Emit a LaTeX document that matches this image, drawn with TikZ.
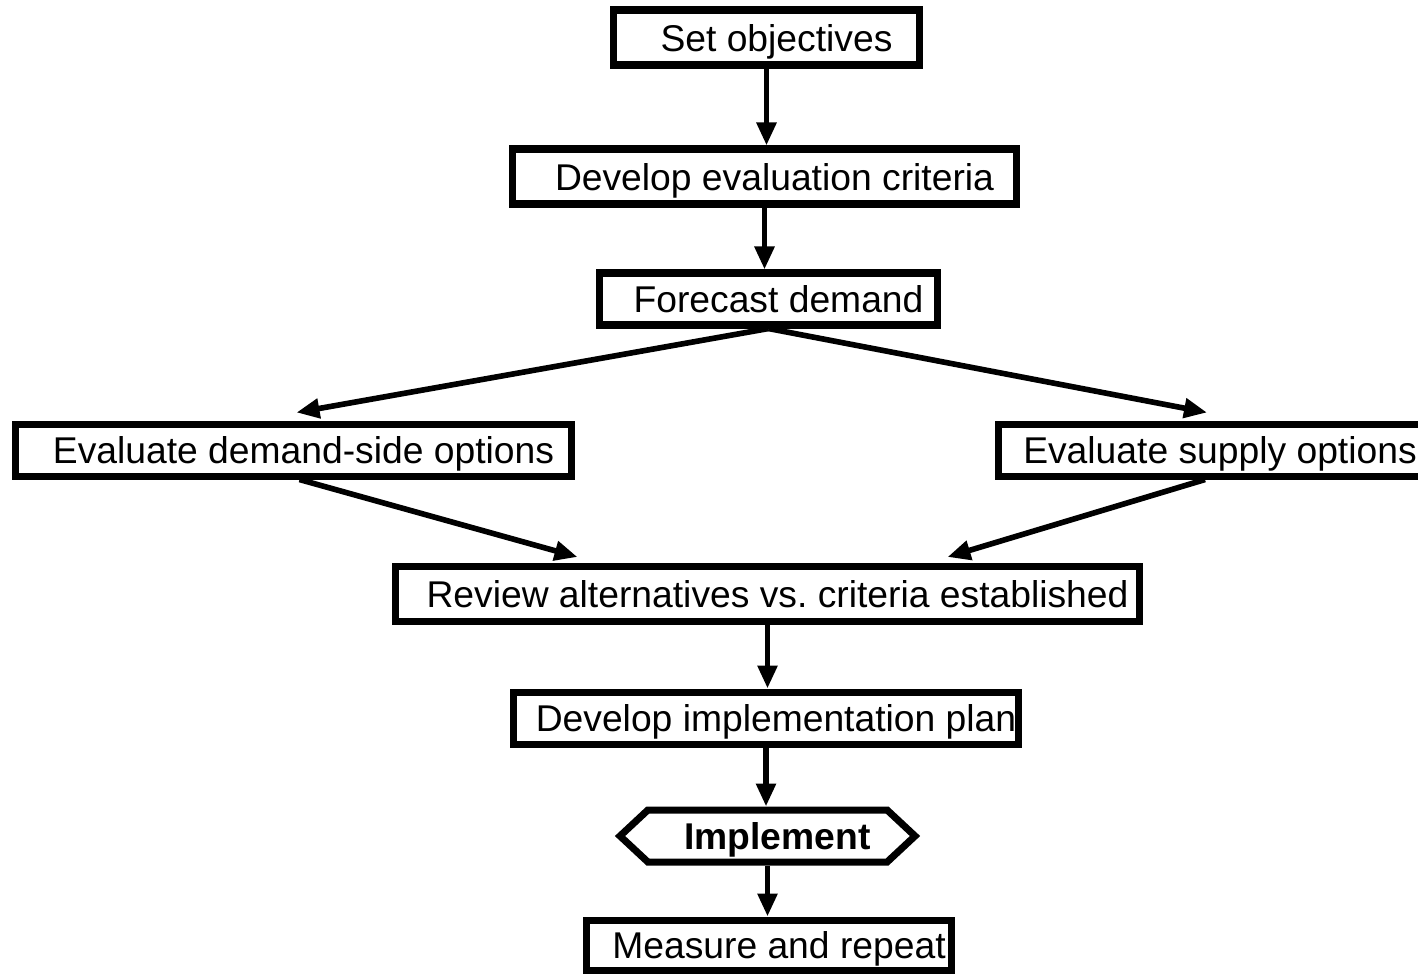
\documentclass[tikz,border=0pt]{standalone}
\usepackage{fontspec}
\setmainfont{Liberation Sans}
\frenchspacing
\usetikzlibrary{arrows.meta,shapes.symbols}
\tikzset{stepbox/.style={draw, line width=2pt, inner sep=0pt, minimum height=0.55cm,
  text height=0.27cm, text depth=0cm, font=\fontsize{10.6}{12.7}\selectfont,
  execute at begin node={\hspace*{0.2cm}}},
flow/.style={line width=1.6pt, -{Triangle[length=0.23cm,width=0.19cm]}}}

\begin{document}
\begin{tikzpicture}
        \useasboundingbox (0,0) rectangle (14.18,-9.75);
        \node[stepbox, minimum width=3.06cm] (so) at (7.665, -0.375) {Set objectives};
        \node[stepbox, minimum width=5.04cm] (dec) at (7.645, -1.765) {Develop evaluation criteria};
        \node[stepbox, minimum width=3.38cm, minimum height=0.52cm] (fc) at (7.685, -2.99) {Forecast demand};
        \node[stepbox, minimum width=5.56cm, minimum height=0.52cm] (dso) at (2.935, -4.50) {Evaluate demand-side options};
        \node[stepbox, minimum width=4.24cm, minimum height=0.52cm] (sup) at (12.10, -4.50) {Evaluate supply options};
        \node[stepbox, minimum width=7.44cm] (rev) at (7.675, -5.94) {Review alternatives vs. criteria established};
        \node[stepbox, minimum width=5.05cm, minimum height=0.52cm] (dip) at (7.66, -7.18) {Develop implementation plan};
        \node[stepbox, signal, signal to=west and east, signal pointer angle=86,
              minimum width=2.95cm, minimum height=0.52cm] (imp) at (7.675, -8.36) {\bfseries Implement};
        \node[stepbox, minimum width=3.65cm, minimum height=0.50cm] (mr) at (7.69, -9.45) {Measure and repeat};

        \draw (so.south) edge[flow] (so.south |- dec.north)
              (dec.south) edge[flow] (dec.south |- fc.north)

              (fc.south) edge[flow] ([xshift=0.03cm, yshift=0.08cm]dso.north)
              (fc.south) edge[flow] ([xshift=-0.03cm, yshift=0.08cm]sup.north)
              ([xshift=0.06cm]dso.south) edge[flow] ([xshift=-1.9cm, yshift=0.06cm]rev.north)
              ([xshift=-0.05cm]sup.south) edge[flow] ([xshift=1.8cm, yshift=0.06cm]rev.north)

              (rev.south) edge[flow] (rev.south |- dip.north)
              (dip.south) edge[flow] (dip.south |- imp.north)
              (imp.south) edge[flow] (imp.south |- mr.north)
              ;
    \end{tikzpicture}
\end{document}
